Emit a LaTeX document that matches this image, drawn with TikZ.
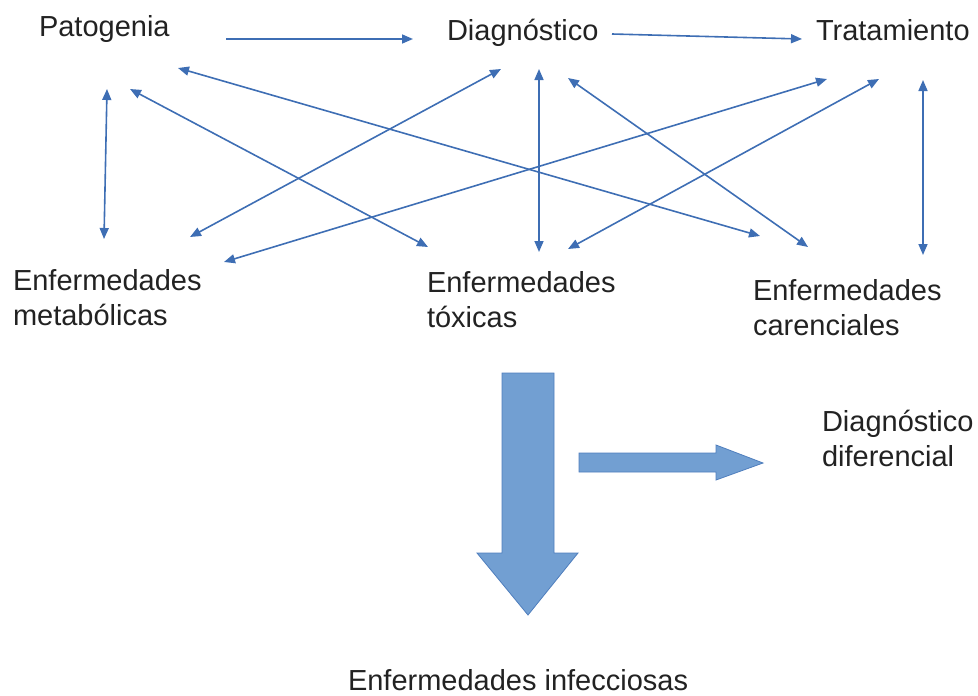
\documentclass[tikz,border=0pt]{standalone}
\usepackage{fontspec}
\setmainfont{Liberation Sans}
\usetikzlibrary{arrows.meta}
\definecolor{linec}{HTML}{3E6EB4}
\definecolor{bigfill}{HTML}{729FD2}
\definecolor{bigdraw}{HTML}{4F7EBD}
\definecolor{txt}{HTML}{222222}
\begin{document}
\begin{tikzpicture}[x=1pt,y=-1pt,
  lbl/.style={anchor=base west, inner sep=0pt, outer sep=0pt, align=left,
              font=\fontsize{29}{35}\selectfont, text=txt},
  conn/.style={draw=linec, line width=1.6pt, -{Triangle[length=11pt,width=9pt]}},
  bidir/.style={draw=linec, line width=1.6pt,
                {Triangle[length=11pt,width=9pt]}-{Triangle[length=11pt,width=9pt]}},
  bigarrow/.style={fill=bigfill, draw=bigdraw, line width=0.8pt, line join=miter}]
\useasboundingbox (0,0) rectangle (978,696);

% labels (multi-line nodes: base = baseline of the last line)
\node[lbl] (pat) at (39,36) {Patogenia};
\node[lbl] (dia) at (447,40) {Diagnóstico};
\node[lbl] (tra) at (816,40) {Tratamiento};
\node[lbl] (met) at (13,325) {Enfermedades\\metabólicas};
\node[lbl] (tox) at (427,327) {Enfermedades\\tóxicas};
\node[lbl] (car) at (753,335) {Enfermedades\\carenciales};
\node[lbl] (dd)  at (822,466) {Diagnóstico\\diferencial};
\node[lbl] (inf) at (348,690) {Enfermedades infecciosas};

% connector end points
\coordinate (a1) at (226,39);  \coordinate (a2) at (413,39);
\coordinate (b1) at (612,34);  \coordinate (b2) at (802,39);
\coordinate (c1) at (107,89);  \coordinate (c2) at (104,239);
\coordinate (d1) at (178,68);  \coordinate (d2) at (760,236);
\coordinate (e1) at (130,89);  \coordinate (e2) at (428,247);
\coordinate (f1) at (501,69);  \coordinate (f2) at (190,237);
\coordinate (g1) at (827,79);  \coordinate (g2) at (224,262);
\coordinate (h1) at (539,69);  \coordinate (h2) at (539,252);
\coordinate (i1) at (568,78);  \coordinate (i2) at (808,247);
\coordinate (j1) at (879,79);  \coordinate (j2) at (568,249);
\coordinate (k1) at (923,80);  \coordinate (k2) at (923,255);

\draw[conn] (a1) -- (a2);
\draw[conn] (b1) -- (b2);
\draw[bidir] (c1) -- (c2);
\draw[bidir] (d1) -- (d2);
\draw[bidir] (e1) -- (e2);
\draw[bidir] (f1) -- (f2);
\draw[bidir] (g1) -- (g2);
\draw[bidir] (h1) -- (h2);
\draw[bidir] (i1) -- (i2);
\draw[bidir] (j1) -- (j2);
\draw[bidir] (k1) -- (k2);

% block arrows
\draw[bigarrow] (502,373) -- (554,373) -- (554,553) -- (578,553) -- (528,615)
  -- (477,553) -- (502,553) -- cycle;
\draw[bigarrow] (579,453) -- (716,453) -- (716,445) -- (763,463) -- (716,480)
  -- (716,472) -- (579,472) -- cycle;
\end{tikzpicture}
\end{document}
